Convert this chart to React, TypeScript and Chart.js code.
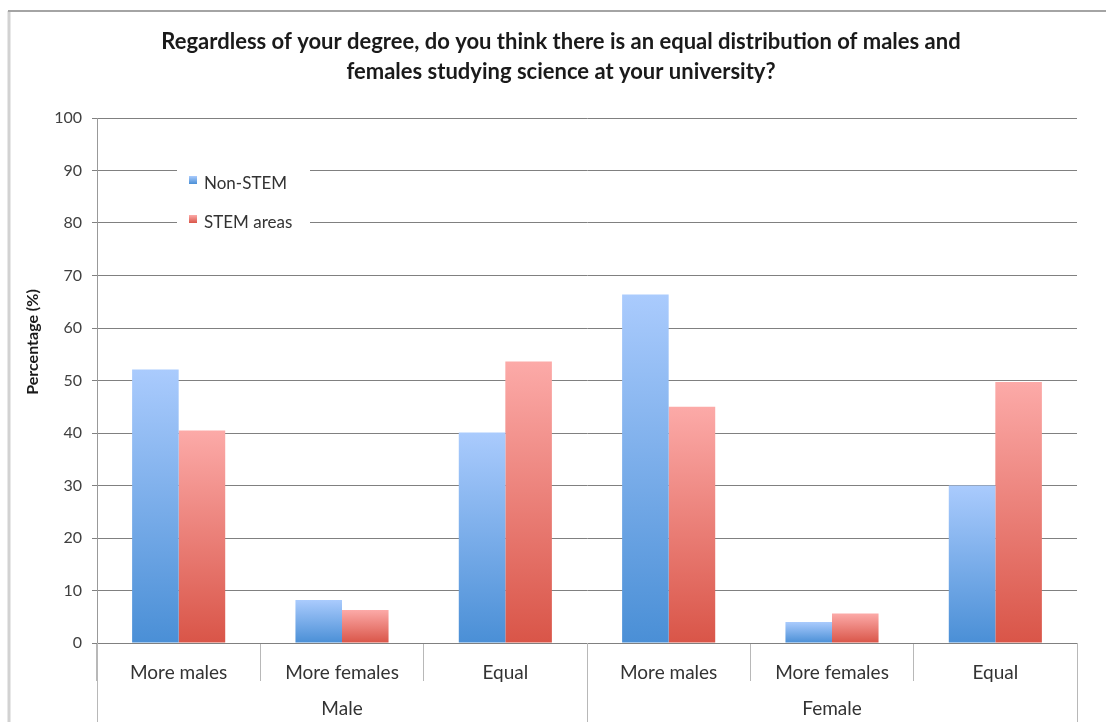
import React, { useEffect, useRef } from "react";
import { Chart, registerables } from "chart.js";

Chart.register(...registerables);

const titleLines = [
  "Regardless of your degree, do you think there is an equal distribution of males and",
  "females studying science at your university?",
];
const categories = ["More males", "More females", "Equal", "More males", "More females", "Equal"];
const groups = ["Male", "Female"];
const groupSizes = [3, 3];
const nonStem = [52.1, 8.2, 40.1, 66.4, 4.0, 30.0];
const stem = [40.5, 6.3, 53.6, 45.0, 5.6, 49.7];
const seriesNames = ["Non-STEM", "STEM areas"];
const yMin = 0;
const yMax = 100;
const yStep = 10;
const yTitle = "Percentage (%)";

const FONT = "Lato, 'DejaVu Sans', sans-serif";
const blueTop = "#aacbfd";
const blueBottom = "#4a8fd6";
const redTop = "#fcaaa8";
const redBottom = "#d95548";

function gradientFill(top: string, bottom: string) {
  return (ctx: any) => {
    const chart = ctx.chart;
    const y = chart.scales && chart.scales.y;
    if (ctx.type !== "data" || !y) return bottom;
    const yTop = y.getPixelForValue(ctx.raw);
    const yBot = y.getPixelForValue(0);
    if (!isFinite(yTop) || !isFinite(yBot) || yTop === yBot) return bottom;
    const g = chart.ctx.createLinearGradient(0, yTop, 0, yBot);
    g.addColorStop(0, top);
    g.addColorStop(1, bottom);
    return g;
  };
}

const extrasPlugin = {
  id: "extras",
  beforeDraw(chart: any) {
    const { ctx, width, height } = chart;
    ctx.save();
    ctx.strokeStyle = "#d2d2d2";
    ctx.lineWidth = 3;
    ctx.beginPath();
    ctx.moveTo(9, 11);
    ctx.lineTo(9, height);
    ctx.stroke();
    ctx.strokeStyle = "#a4a4a4";
    ctx.lineWidth = 2;
    ctx.beginPath();
    ctx.moveTo(8, 11);
    ctx.lineTo(width, 11);
    ctx.stroke();
    ctx.restore();
  },
  afterDatasetsDraw(chart: any) {
    const { ctx, height } = chart;
    const x = chart.scales.x;
    const area = chart.chartArea;
    ctx.save();
    // y axis title
    ctx.save();
    ctx.translate(33, 342);
    ctx.rotate(-Math.PI / 2);
    ctx.font = `bold 16px ${FONT}`;
    ctx.fillStyle = "#1a1a1a";
    ctx.textAlign = "center";
    ctx.textBaseline = "middle";
    ctx.fillText(yTitle, 0, 0);
    ctx.restore();
    // legend
    const lx = 177, ly = 148, lw = 133, lh = 95;
    ctx.fillStyle = "#ffffff";
    ctx.fillRect(lx, ly, lw, lh);
    const items = [
      { text: seriesNames[0], top: blueTop, bottom: blueBottom, y: 184 },
      { text: seriesNames[1], top: redTop, bottom: redBottom, y: 223 },
    ];
    ctx.font = `17px ${FONT}`;
    ctx.textBaseline = "middle";
    ctx.textAlign = "left";
    for (const it of items) {
      const g = ctx.createLinearGradient(0, it.y - 8, 0, it.y);
      g.addColorStop(0, it.top);
      g.addColorStop(1, it.bottom);
      ctx.fillStyle = g;
      ctx.fillRect(189, it.y - 8, 8, 8);
      ctx.fillStyle = "#333333";
      ctx.fillText(it.text, 204, it.y);
    }
    // group lines and labels
    const bounds: number[] = [x.left];
    let idx = 0;
    for (const s of groupSizes) {
      idx += s;
      if (idx >= categories.length) bounds.push(x.right);
      else bounds.push((x.getPixelForValue(idx - 1) + x.getPixelForValue(idx)) / 2);
    }
    ctx.strokeStyle = "#b8b8b8";
    ctx.lineWidth = 1;
    for (const b of bounds) {
      const px = Math.round(b) + 0.5;
      ctx.beginPath();
      ctx.moveTo(px, area.bottom);
      ctx.lineTo(px, height);
      ctx.stroke();
    }
    ctx.font = `19px ${FONT}`;
    ctx.fillStyle = "#333333";
    ctx.textAlign = "center";
    groups.forEach((g, i) => {
      ctx.fillText(g, (bounds[i] + bounds[i + 1]) / 2, 709);
    });
    ctx.restore();
  },
};

export default function App() {
  const ref = useRef<HTMLCanvasElement | null>(null);
  useEffect(() => {
    if (!ref.current) return;
    const chart = new Chart(ref.current, {
      type: "bar",
      data: {
        labels: categories,
        datasets: [
          {
            label: seriesNames[0],
            data: nonStem,
            backgroundColor: gradientFill(blueTop, blueBottom),
            borderWidth: 0,
            categoryPercentage: 0.57,
            barPercentage: 1,
          },
          {
            label: seriesNames[1],
            data: stem,
            backgroundColor: gradientFill(redTop, redBottom),
            borderWidth: 0,
            categoryPercentage: 0.57,
            barPercentage: 1,
          },
        ],
      },
      options: {
        responsive: false,
        animation: false,
        devicePixelRatio: 1,
        layout: { padding: { top: 0, left: 16, right: 0, bottom: 0 } },
        plugins: {
          legend: { display: false },
          tooltip: { enabled: false },
          title: {
            display: true,
            text: titleLines,
            color: "#1a1a1a",
            font: { family: FONT, size: 22, weight: "bold", lineHeight: 30 / 22 },
            padding: { top: 27, bottom: 31 },
          },
        },
        scales: {
          x: {
            type: "category",
            grid: {
              display: true,
              drawOnChartArea: false,
              offset: true,
              tickLength: 38,
              color: "#b8b8b8",
            },
            border: { display: false },
            ticks: {
              padding: -20,
              color: "#333333",
              font: { family: FONT, size: 19 },
              autoSkip: false,
              maxRotation: 0,
            },
            afterFit: (s: any) => {
              s.height = 79;
            },
          },
          y: {
            min: yMin,
            max: yMax,
            ticks: {
              stepSize: yStep,
              padding: 10,
              color: "#404040",
              font: { family: FONT, size: 16 },
            },
            grid: { color: "#808080", tickLength: 5, lineWidth: 1 },
            border: { display: true, color: "#999999" },
            title: { display: false },
            afterFit: (s: any) => {
              s.width = 81;
            },
          },
          y2: {
            position: "right",
            display: true,
            grid: { display: false },
            ticks: { display: false },
            border: { display: false },
            afterFit: (s: any) => {
              s.width = 29;
            },
          },
        },
      },
      plugins: [extrasPlugin],
    } as any);
    return () => chart.destroy();
  }, []);
  return (
    <div style={{ position: "absolute", left: 0, top: 0, width: 1106, height: 722, background: "#fff" }}>
      <canvas ref={ref} width={1106} height={722} style={{ display: "block" }} />
    </div>
  );
}
